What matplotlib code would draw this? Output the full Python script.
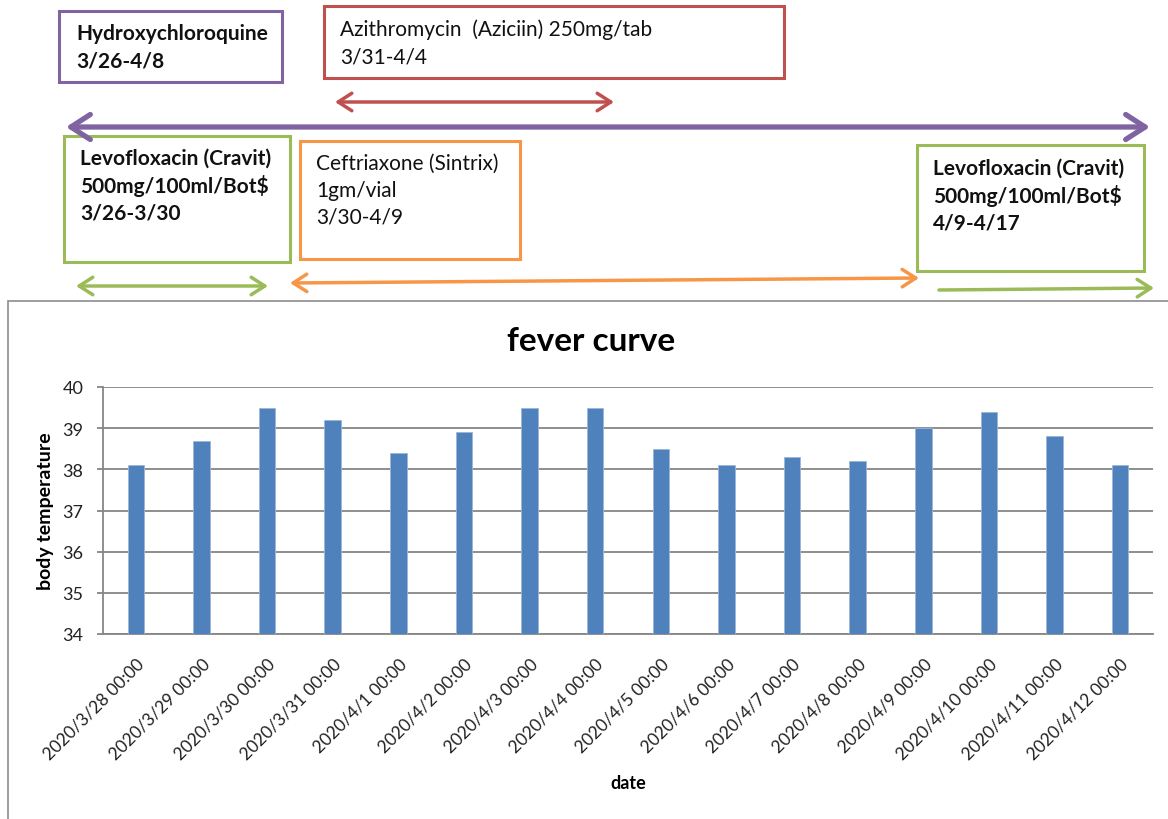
import matplotlib
matplotlib.use("Agg")
import matplotlib.pyplot as plt
from matplotlib.patches import Rectangle

plt.rcParams['font.family'] = ['Lato', 'DejaVu Sans']

# fever data
dates = ["2020/3/28 00:00", "2020/3/29 00:00", "2020/3/30 00:00", "2020/3/31 00:00",
         "2020/4/1 00:00", "2020/4/2 00:00", "2020/4/3 00:00", "2020/4/4 00:00",
         "2020/4/5 00:00", "2020/4/6 00:00", "2020/4/7 00:00", "2020/4/8 00:00",
         "2020/4/9 00:00", "2020/4/10 00:00", "2020/4/11 00:00", "2020/4/12 00:00"]
temps = [38.1, 38.7, 39.5, 39.2, 38.4, 38.9, 39.5, 39.5,
         38.5, 38.1, 38.3, 38.2, 39.0, 39.4, 38.8, 38.1]
y_ticks = [34, 35, 36, 37, 38, 39, 40]

# medication notes
hcq_lines = ["Hydroxychloroquine", "3/26-4/8"]
azi_lines = ["Azithromycin  (Aziciin) 250mg/tab", "3/31-4/4"]
levo1_lines = ["Levofloxacin (Cravit)", "500mg/100ml/Bot$", "3/26-3/30"]
cef_lines = ["Ceftriaxone (Sintrix)", "1gm/vial", "3/30-4/9"]
levo2_lines = ["Levofloxacin (Cravit)", "500mg/100ml/Bot$", "4/9-4/17"]

PURPLE = "#8064A2"
RED = "#C0504D"
GREEN = "#9BBB59"
ORANGE = "#F79646"
BLUE = "#4F81BD"
GRID = "#868686"

fig = plt.figure(figsize=(11.68, 8.2), dpi=100)

# pixel-space layer for the boxes and arrows
bg = fig.add_axes([0, 0, 1, 1], zorder=0)
bg.set_xlim(0, 1168)
bg.set_ylim(820, 0)
bg.axis("off")


def box(x0, y0, x1, y1, color, lines, tx, ty, bold, step=27):
    bg.add_patch(Rectangle((x0, y0), x1 - x0, y1 - y0, facecolor="white",
                           edgecolor=color, lw=2.2))
    for i, s in enumerate(lines):
        bg.text(tx, ty + i * step, s, fontsize=15, va="center", ha="left",
                fontweight="bold" if bold else "normal", color="#111111")


def arrow(x0, y0, x1, y1, color, lw=2.5, style="<->", scale=14):
    bg.annotate("", xy=(x1, y1), xytext=(x0, y0),
                arrowprops=dict(arrowstyle=style + ",head_length=0.7,head_width=0.45",
                                color=color, lw=lw, shrinkA=0, shrinkB=0,
                                mutation_scale=scale))


# chart frame
bg.add_patch(Rectangle((8, 302), 1180, 530, facecolor="white", edgecolor="#8c8c8c", lw=1.2))

box(59, 12, 282, 83, PURPLE, hcq_lines, 76, 34, True)
box(324, 7, 784, 79, RED, azi_lines, 340, 30, False)
box(64, 137, 290, 263, GREEN, levo1_lines, 80, 159, True)
box(300, 142, 520, 260, ORANGE, cef_lines, 316, 164, False)
box(917, 146, 1144, 272, GREEN, levo2_lines, 933, 169, True)

arrow(335, 103, 614, 103, RED)
arrow(66, 128, 1150, 128, PURPLE, lw=3.8, scale=20)
arrow(76, 287, 268, 287, GREEN)
arrow(290, 284, 919, 279, ORANGE)
arrow(939, 291, 1154, 289, GREEN, style="->")

# bar chart
ax = fig.add_axes([103 / 1168, (820 - 635) / 820, 1050 / 1168, 247 / 820], zorder=1)
x = range(len(dates))
ax.bar(x, temps, width=0.25, color=BLUE, edgecolor="#9db6d8", lw=0.6, zorder=3)
ax.set_xlim(-0.5, len(dates) - 0.5)
ax.set_ylim(34, 40)
ax.set_yticks(y_ticks)
ax.set_xticks(list(x))
ax.set_xticklabels(dates, rotation=45, ha="right", va="top", rotation_mode="anchor", fontsize=12.5)
ax.grid(axis="y", color=GRID, lw=1.3)
ax.set_axisbelow(True)
for side in ["top", "right"]:
    ax.spines[side].set_visible(False)
for side in ["left", "bottom"]:
    ax.spines[side].set_color(GRID)
    ax.spines[side].set_linewidth(1.3)
ax.tick_params(axis="x", length=0, pad=15, labelcolor="#222222")
ax.tick_params(axis="y", length=4.3, width=1.3, color=GRID, pad=10, labelsize=13, labelcolor="#222222")

ax.set_xlabel("date", fontsize=13, fontweight="bold")
ax.xaxis.set_label_coords(0.5, -0.565)
ax.set_ylabel("body temperature", fontsize=14, fontweight="bold")
ax.yaxis.set_label_coords(-0.047, 0.5)

fig.text(591 / 1168, 1 - 342 / 820, "fever curve", fontsize=24, fontweight="bold",
         ha="center", va="center")

fig.savefig("out.png", dpi=100)
